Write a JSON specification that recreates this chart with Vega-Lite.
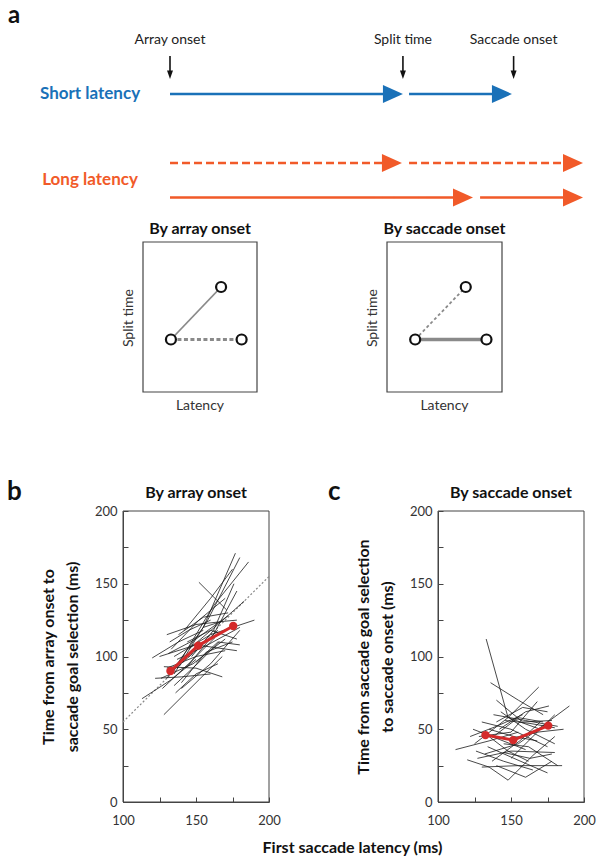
{
"$schema": "https://vega.github.io/schema/vega-lite/v6.json",
"width": 600, "height": 860,
"autosize": {"type": "none"},
"padding": 0,
"background": "white",
"config": {"view": {"stroke": null}, "font": "Lato", "axis": {"grid": false, "labelFont": "Lato", "titleFont": "Lato", "labelFlush": false}},
"datasets": {
"arrows": [
{"group":"short","style":"solid","lane":0,"t0":0,"t1":132,"tip":141},
{"group":"short","style":"solid","lane":0,"t0":144.7,"t1":198,"tip":207},
{"group":"long","style":"dashed","lane":2,"t0":0,"t1":131,"tip":140.4},
{"group":"long","style":"dashed","lane":2,"t0":144.7,"t1":241,"tip":250},
{"group":"long","style":"solid","lane":3,"t0":0,"t1":174,"tip":183.4},
{"group":"long","style":"solid","lane":3,"t0":187.7,"t1":241,"tip":250}
],
"events": [{"label":"Array onset","t":0},{"label":"Split time","t":141},{"label":"Saccade onset","t":208}],
"latlabels": [{"label":"Short latency","group":"short","t":-48.4,"lane":0},{"label":"Long latency","group":"long","t":-48.4,"lane":2.5}],
"pts": [{"p":"A","lx":2.45,"sy":3.5},{"p":"B","lx":6.85,"sy":7.0},{"p":"C","lx":8.65,"sy":3.5}],
"segs": [{"seg":"AB","x1":2.45,"y1":3.5,"x2":6.85,"y2":7.0},{"seg":"AC","x1":2.45,"y1":3.5,"x2":8.65,"y2":3.5}],
"diag": [{"lat":100,"t":55},{"lat":200,"t":155}],
"frame": [{"lat":100,"lat2":200,"t":0,"t2":200}],
"bMean": [{"lat":132.5,"t":90},{"lat":151.5,"t":107.5},{"lat":175.5,"t":121}],
"cMean": [{"lat":132.5,"t":46},{"lat":151.5,"t":42.5},{"lat":175.5,"t":52.5}],
"bLines": [
{"id":1,"lat":113,"t":71},{"id":1,"lat":133,"t":84},{"id":1,"lat":150,"t":98},
{"id":2,"lat":128,"t":60},{"id":2,"lat":150,"t":82},{"id":2,"lat":168,"t":100},
{"id":3,"lat":120,"t":99},{"id":3,"lat":138,"t":110},{"id":3,"lat":155,"t":118},
{"id":4,"lat":130,"t":85},{"id":4,"lat":155,"t":120},{"id":4,"lat":177,"t":171},
{"id":5,"lat":135,"t":88},{"id":5,"lat":158,"t":125},{"id":5,"lat":180,"t":168},
{"id":6,"lat":138,"t":95},{"id":6,"lat":162,"t":135},{"id":6,"lat":186,"t":165},
{"id":7,"lat":152,"t":151},{"id":7,"lat":162,"t":141},{"id":7,"lat":171,"t":132},
{"id":8,"lat":135,"t":100},{"id":8,"lat":160,"t":115},{"id":8,"lat":190,"t":125},
{"id":9,"lat":125,"t":100},{"id":9,"lat":150,"t":108},{"id":9,"lat":178,"t":104},
{"id":10,"lat":130,"t":92},{"id":10,"lat":150,"t":100},{"id":10,"lat":170,"t":104},
{"id":11,"lat":140,"t":78},{"id":11,"lat":160,"t":95},{"id":11,"lat":180,"t":118},
{"id":12,"lat":126,"t":85},{"id":12,"lat":148,"t":95},{"id":12,"lat":170,"t":112},
{"id":13,"lat":133,"t":105},{"id":13,"lat":152,"t":125},{"id":13,"lat":170,"t":140},
{"id":14,"lat":138,"t":115},{"id":14,"lat":155,"t":127},{"id":14,"lat":172,"t":130},
{"id":15,"lat":143,"t":92},{"id":15,"lat":162,"t":115},{"id":15,"lat":178,"t":145},
{"id":16,"lat":128,"t":93},{"id":16,"lat":150,"t":92},{"id":16,"lat":168,"t":86},
{"id":17,"lat":135,"t":80},{"id":17,"lat":152,"t":96},{"id":17,"lat":166,"t":110},
{"id":18,"lat":145,"t":105},{"id":18,"lat":165,"t":122},{"id":18,"lat":183,"t":138},
{"id":19,"lat":132,"t":110},{"id":19,"lat":145,"t":118},{"id":19,"lat":160,"t":125},
{"id":20,"lat":140,"t":82},{"id":20,"lat":157,"t":103},{"id":20,"lat":175,"t":110},
{"id":21,"lat":122,"t":85},{"id":21,"lat":140,"t":86},{"id":21,"lat":160,"t":88},
{"id":22,"lat":137,"t":98},{"id":22,"lat":158,"t":108},{"id":22,"lat":180,"t":120},
{"id":23,"lat":130,"t":115},{"id":23,"lat":150,"t":122},{"id":23,"lat":168,"t":124},
{"id":24,"lat":147,"t":100},{"id":24,"lat":162,"t":118},{"id":24,"lat":176,"t":150},
{"id":25,"lat":134,"t":90},{"id":25,"lat":150,"t":104},{"id":25,"lat":165,"t":118},
{"id":26,"lat":127,"t":78},{"id":26,"lat":146,"t":96},{"id":26,"lat":163,"t":113},
{"id":27,"lat":150,"t":96},{"id":27,"lat":165,"t":110},{"id":27,"lat":180,"t":108},
{"id":28,"lat":142,"t":118},{"id":28,"lat":160,"t":140},{"id":28,"lat":175,"t":160},
{"id":29,"lat":136,"t":75},{"id":29,"lat":150,"t":88},{"id":29,"lat":165,"t":95},
{"id":30,"lat":144,"t":110},{"id":30,"lat":160,"t":118},{"id":30,"lat":178,"t":112},
{"id":31,"lat":131,"t":102},{"id":31,"lat":150,"t":112},{"id":31,"lat":172,"t":128},
{"id":32,"lat":155,"t":120},{"id":32,"lat":167,"t":124},{"id":32,"lat":178,"t":125}
],
"cLines": [
{"id":1,"lat":133,"t":112},{"id":1,"lat":148,"t":58},{"id":1,"lat":170,"t":50},
{"id":2,"lat":112,"t":36},{"id":2,"lat":135,"t":42},{"id":2,"lat":155,"t":48},
{"id":3,"lat":120,"t":29},{"id":3,"lat":135,"t":24},{"id":3,"lat":148,"t":15},
{"id":4,"lat":148,"t":15},{"id":4,"lat":165,"t":32},{"id":4,"lat":180,"t":45},
{"id":5,"lat":136,"t":82},{"id":5,"lat":155,"t":70},{"id":5,"lat":172,"t":60},
{"id":6,"lat":130,"t":55},{"id":6,"lat":150,"t":50},{"id":6,"lat":175,"t":38},
{"id":7,"lat":140,"t":25},{"id":7,"lat":160,"t":17},{"id":7,"lat":178,"t":28},
{"id":8,"lat":125,"t":40},{"id":8,"lat":148,"t":58},{"id":8,"lat":169,"t":79},
{"id":9,"lat":132,"t":33},{"id":9,"lat":155,"t":40},{"id":9,"lat":190,"t":66},
{"id":10,"lat":138,"t":60},{"id":10,"lat":160,"t":56},{"id":10,"lat":182,"t":52},
{"id":11,"lat":128,"t":45},{"id":11,"lat":150,"t":48},{"id":11,"lat":168,"t":69},
{"id":12,"lat":142,"t":50},{"id":12,"lat":160,"t":62},{"id":12,"lat":176,"t":66},
{"id":13,"lat":127,"t":30},{"id":13,"lat":150,"t":35},{"id":13,"lat":180,"t":34},
{"id":14,"lat":135,"t":50},{"id":14,"lat":152,"t":45},{"id":14,"lat":168,"t":42},
{"id":15,"lat":145,"t":40},{"id":15,"lat":162,"t":38},{"id":15,"lat":182,"t":25},
{"id":16,"lat":122,"t":45},{"id":16,"lat":140,"t":52},{"id":16,"lat":158,"t":60},
{"id":17,"lat":140,"t":70},{"id":17,"lat":158,"t":55},{"id":17,"lat":178,"t":56},
{"id":18,"lat":130,"t":24},{"id":18,"lat":155,"t":25},{"id":18,"lat":185,"t":25},
{"id":19,"lat":150,"t":30},{"id":19,"lat":165,"t":45},{"id":19,"lat":180,"t":60},
{"id":20,"lat":134,"t":38},{"id":20,"lat":152,"t":30},{"id":20,"lat":175,"t":20},
{"id":21,"lat":143,"t":62},{"id":21,"lat":160,"t":50},{"id":21,"lat":180,"t":40},
{"id":22,"lat":126,"t":35},{"id":22,"lat":145,"t":28},{"id":22,"lat":165,"t":22},
{"id":23,"lat":138,"t":45},{"id":23,"lat":155,"t":58},{"id":23,"lat":172,"t":55},
{"id":24,"lat":146,"t":56},{"id":24,"lat":163,"t":54},{"id":24,"lat":180,"t":51},
{"id":25,"lat":131,"t":48},{"id":25,"lat":148,"t":35},{"id":25,"lat":162,"t":28},
{"id":26,"lat":152,"t":44},{"id":26,"lat":168,"t":48},{"id":26,"lat":186,"t":50},
{"id":27,"lat":124,"t":50},{"id":27,"lat":142,"t":43},{"id":27,"lat":160,"t":36},
{"id":28,"lat":140,"t":55},{"id":28,"lat":158,"t":65},{"id":28,"lat":175,"t":62},
{"id":29,"lat":137,"t":28},{"id":29,"lat":156,"t":42},{"id":29,"lat":170,"t":55},
{"id":30,"lat":145,"t":34},{"id":30,"lat":163,"t":30},{"id":30,"lat":178,"t":33}
]
},
"layer": [
{
"layer": [
{"data": {"name": "arrows"}, "mark": {"type": "rule", "strokeWidth": 2.6},
 "encoding": {
  "x": {"field": "t0", "type": "quantitative", "scale": {"domain": [0, 250], "range": [170, 583], "zero": false, "nice": false}, "axis": null},
  "x2": {"field": "t1"},
  "y": {"field": "lane", "type": "quantitative", "scale": {"domain": [0, 3], "range": [94, 197.5], "zero": false, "nice": false}, "axis": null},
  "color": {"field": "group", "type": "nominal", "scale": {"domain": ["short", "long"], "range": ["#1a71b8", "#f15a29"]}, "legend": null},
  "strokeDash": {"field": "style", "type": "nominal", "scale": {"domain": ["solid", "dashed"], "range": [[1, 0], [8, 4]]}, "legend": null}}},
{"data": {"name": "arrows"}, "mark": {"type": "point", "shape": "M-2,-0.9L0,0L-2,0.9Z", "filled": true, "size": 400, "opacity": 1, "strokeWidth": 0},
 "encoding": {
  "x": {"field": "tip", "type": "quantitative", "scale": {"domain": [0, 250], "range": [170, 583], "zero": false, "nice": false}, "axis": null},
  "y": {"field": "lane", "type": "quantitative", "scale": {"domain": [0, 3], "range": [94, 197.5], "zero": false, "nice": false}, "axis": null},
  "color": {"field": "group", "type": "nominal", "scale": {"domain": ["short", "long"], "range": ["#1a71b8", "#f15a29"]}, "legend": null}}},
{"data": {"name": "events"}, "mark": {"type": "rule", "color": "#111", "strokeWidth": 1.6},
 "encoding": {
  "x": {"field": "t", "type": "quantitative", "scale": {"domain": [0, 250], "range": [170, 583], "zero": false, "nice": false}, "axis": null},
  "y": {"datum": -1.1, "type": "quantitative", "scale": {"domain": [0, 3], "range": [94, 197.5], "zero": false, "nice": false}, "axis": null},
  "y2": {"datum": -0.55}}},
{"data": {"name": "events"}, "mark": {"type": "point", "shape": "M-0.7,-2L0,0L0.7,-2Z", "filled": true, "size": 72, "color": "#111", "opacity": 1, "strokeWidth": 0},
 "encoding": {
  "x": {"field": "t", "type": "quantitative", "scale": {"domain": [0, 250], "range": [170, 583], "zero": false, "nice": false}, "axis": null},
  "y": {"datum": -0.435, "type": "quantitative", "scale": {"domain": [0, 3], "range": [94, 197.5], "zero": false, "nice": false}, "axis": null}}},
{"data": {"name": "events"}, "mark": {"type": "text", "fontSize": 14, "color": "#222", "baseline": "middle", "align": "center"},
 "encoding": {
  "x": {"field": "t", "type": "quantitative", "scale": {"domain": [0, 250], "range": [170, 583], "zero": false, "nice": false}, "axis": null},
  "y": {"datum": -1.565, "type": "quantitative", "scale": {"domain": [0, 3], "range": [94, 197.5], "zero": false, "nice": false}, "axis": null},
  "text": {"field": "label"}}},
{"data": {"name": "latlabels"}, "mark": {"type": "text", "fontSize": 17, "fontWeight": "bold", "baseline": "middle", "align": "center"},
 "encoding": {
  "x": {"field": "t", "type": "quantitative", "scale": {"domain": [0, 250], "range": [170, 583], "zero": false, "nice": false}, "axis": null},
  "y": {"field": "lane", "type": "quantitative", "scale": {"domain": [0, 3], "range": [94, 197.5], "zero": false, "nice": false}, "axis": null},
  "text": {"field": "label"},
  "color": {"field": "group", "type": "nominal", "scale": {"domain": ["short", "long"], "range": ["#1a71b8", "#f15a29"]}, "legend": null}}},
{"data": {"values": [{"label": "a", "t": -98, "lane": -2.072}]}, "mark": {"type": "text", "fontSize": 24, "fontWeight": "bold", "align": "left", "baseline": "alphabetic", "color": "#111"},
 "encoding": {
  "x": {"field": "t", "type": "quantitative", "scale": {"domain": [0, 250], "range": [170, 583], "zero": false, "nice": false}, "axis": null},
  "y": {"field": "lane", "type": "quantitative", "scale": {"domain": [0, 3], "range": [94, 197.5], "zero": false, "nice": false}, "axis": null},
  "text": {"field": "label"}}}
]
},
{
"layer": [
{"data": {"values": [{}]}, "mark": {"type": "rect", "fill": "transparent", "stroke": "#444", "strokeWidth": 1.2},
 "encoding": {
  "x": {"datum": 0, "type": "quantitative", "scale": {"domain": [0, 10], "range": [143, 257], "zero": false, "nice": false}, "axis": null},
  "x2": {"datum": 10},
  "y": {"datum": 0, "type": "quantitative", "scale": {"domain": [0, 10], "range": [392, 242], "zero": false, "nice": false}, "axis": null},
  "y2": {"datum": 10}}},
{"data": {"name": "segs"}, "transform": [{"filter": "datum.seg === 'AB'"}], "mark": {"type": "rule", "color": "#8a8a8a", "strokeWidth": 1.8},
 "encoding": {
  "x": {"field": "x1", "type": "quantitative", "scale": {"domain": [0, 10], "range": [143, 257], "zero": false, "nice": false}, "axis": null},
  "x2": {"field": "x2"},
  "y": {"field": "y1", "type": "quantitative", "scale": {"domain": [0, 10], "range": [392, 242], "zero": false, "nice": false}, "axis": null},
  "y2": {"field": "y2"}}},
{"data": {"name": "segs"}, "transform": [{"filter": "datum.seg === 'AC'"}], "mark": {"type": "rule", "color": "#8a8a8a", "strokeWidth": 3.2, "strokeDash": [4, 2.5]},
 "encoding": {
  "x": {"field": "x1", "type": "quantitative", "scale": {"domain": [0, 10], "range": [143, 257], "zero": false, "nice": false}, "axis": null},
  "x2": {"field": "x2"},
  "y": {"field": "y1", "type": "quantitative", "scale": {"domain": [0, 10], "range": [392, 242], "zero": false, "nice": false}, "axis": null},
  "y2": {"field": "y2"}}},
{"data": {"name": "pts"}, "mark": {"type": "point", "shape": "circle", "fill": "white", "stroke": "#111", "strokeWidth": 2.2, "size": 100, "opacity": 1, "fillOpacity": 1},
 "encoding": {
  "x": {"field": "lx", "type": "quantitative", "scale": {"domain": [0, 10], "range": [143, 257], "zero": false, "nice": false}, "axis": null},
  "y": {"field": "sy", "type": "quantitative", "scale": {"domain": [0, 10], "range": [392, 242], "zero": false, "nice": false}, "axis": null}}},
{"data": {"values": [{"label": "By array onset", "lx": 5, "sy": 10.9}]}, "mark": {"type": "text", "fontSize": 16, "fontWeight": "bold", "align": "center", "baseline": "middle", "color": "#111"},
 "encoding": {
  "x": {"field": "lx", "type": "quantitative", "scale": {"domain": [0, 10], "range": [143, 257], "zero": false, "nice": false}, "axis": null},
  "y": {"field": "sy", "type": "quantitative", "scale": {"domain": [0, 10], "range": [392, 242], "zero": false, "nice": false}, "axis": null},
  "text": {"field": "label"}}},
{"data": {"values": [{"label": "Latency", "lx": 5, "sy": -0.93}]}, "mark": {"type": "text", "fontSize": 14, "align": "center", "baseline": "middle", "color": "#333"},
 "encoding": {
  "x": {"field": "lx", "type": "quantitative", "scale": {"domain": [0, 10], "range": [143, 257], "zero": false, "nice": false}, "axis": null},
  "y": {"field": "sy", "type": "quantitative", "scale": {"domain": [0, 10], "range": [392, 242], "zero": false, "nice": false}, "axis": null},
  "text": {"field": "label"}}},
{"data": {"values": [{"label": "Split time", "lx": -1.23, "sy": 4.93}]}, "mark": {"type": "text", "fontSize": 14, "align": "center", "baseline": "middle", "angle": 270, "color": "#333"},
 "encoding": {
  "x": {"field": "lx", "type": "quantitative", "scale": {"domain": [0, 10], "range": [143, 257], "zero": false, "nice": false}, "axis": null},
  "y": {"field": "sy", "type": "quantitative", "scale": {"domain": [0, 10], "range": [392, 242], "zero": false, "nice": false}, "axis": null},
  "text": {"field": "label"}}}
]
},
{
"layer": [
{"data": {"values": [{}]}, "mark": {"type": "rect", "fill": "transparent", "stroke": "#444", "strokeWidth": 1.2},
 "encoding": {
  "x": {"datum": 0, "type": "quantitative", "scale": {"domain": [0, 10], "range": [387, 502], "zero": false, "nice": false}, "axis": null},
  "x2": {"datum": 10},
  "y": {"datum": 0, "type": "quantitative", "scale": {"domain": [0, 10], "range": [392, 242], "zero": false, "nice": false}, "axis": null},
  "y2": {"datum": 10}}},
{"data": {"name": "segs"}, "transform": [{"filter": "datum.seg === 'AB'"}], "mark": {"type": "rule", "color": "#8a8a8a", "strokeWidth": 1.8, "strokeDash": [3, 2.5]},
 "encoding": {
  "x": {"field": "x1", "type": "quantitative", "scale": {"domain": [0, 10], "range": [387, 502], "zero": false, "nice": false}, "axis": null},
  "x2": {"field": "x2"},
  "y": {"field": "y1", "type": "quantitative", "scale": {"domain": [0, 10], "range": [392, 242], "zero": false, "nice": false}, "axis": null},
  "y2": {"field": "y2"}}},
{"data": {"name": "segs"}, "transform": [{"filter": "datum.seg === 'AC'"}], "mark": {"type": "rule", "color": "#8a8a8a", "strokeWidth": 3.5},
 "encoding": {
  "x": {"field": "x1", "type": "quantitative", "scale": {"domain": [0, 10], "range": [387, 502], "zero": false, "nice": false}, "axis": null},
  "x2": {"field": "x2"},
  "y": {"field": "y1", "type": "quantitative", "scale": {"domain": [0, 10], "range": [392, 242], "zero": false, "nice": false}, "axis": null},
  "y2": {"field": "y2"}}},
{"data": {"name": "pts"}, "mark": {"type": "point", "shape": "circle", "fill": "white", "stroke": "#111", "strokeWidth": 2.2, "size": 100, "opacity": 1, "fillOpacity": 1},
 "encoding": {
  "x": {"field": "lx", "type": "quantitative", "scale": {"domain": [0, 10], "range": [387, 502], "zero": false, "nice": false}, "axis": null},
  "y": {"field": "sy", "type": "quantitative", "scale": {"domain": [0, 10], "range": [392, 242], "zero": false, "nice": false}, "axis": null}}},
{"data": {"values": [{"label": "By saccade onset", "lx": 5, "sy": 10.9}]}, "mark": {"type": "text", "fontSize": 16, "fontWeight": "bold", "align": "center", "baseline": "middle", "color": "#111"},
 "encoding": {
  "x": {"field": "lx", "type": "quantitative", "scale": {"domain": [0, 10], "range": [387, 502], "zero": false, "nice": false}, "axis": null},
  "y": {"field": "sy", "type": "quantitative", "scale": {"domain": [0, 10], "range": [392, 242], "zero": false, "nice": false}, "axis": null},
  "text": {"field": "label"}}},
{"data": {"values": [{"label": "Latency", "lx": 5, "sy": -0.93}]}, "mark": {"type": "text", "fontSize": 14, "align": "center", "baseline": "middle", "color": "#333"},
 "encoding": {
  "x": {"field": "lx", "type": "quantitative", "scale": {"domain": [0, 10], "range": [387, 502], "zero": false, "nice": false}, "axis": null},
  "y": {"field": "sy", "type": "quantitative", "scale": {"domain": [0, 10], "range": [392, 242], "zero": false, "nice": false}, "axis": null},
  "text": {"field": "label"}}},
{"data": {"values": [{"label": "Split time", "lx": -1.23, "sy": 4.93}]}, "mark": {"type": "text", "fontSize": 14, "align": "center", "baseline": "middle", "angle": 270, "color": "#333"},
 "encoding": {
  "x": {"field": "lx", "type": "quantitative", "scale": {"domain": [0, 10], "range": [387, 502], "zero": false, "nice": false}, "axis": null},
  "y": {"field": "sy", "type": "quantitative", "scale": {"domain": [0, 10], "range": [392, 242], "zero": false, "nice": false}, "axis": null},
  "text": {"field": "label"}}}
]
},
{"data": {"name": "frame"}, "mark": {"type": "rect", "fill": "transparent", "stroke": "#444", "strokeWidth": 1},
 "encoding": {
  "x": {"field": "lat", "type": "quantitative", "scale": {"domain": [100, 200], "range": [123, 269], "zero": false, "nice": false},
   "axis": {"orient": "bottom", "offset": -58, "values": [125, 175], "tickSize": -5, "labels": false, "domain": false, "tickColor": "#444", "title": null}},
  "x2": {"field": "lat2"},
  "y": {"field": "t", "type": "quantitative", "scale": {"domain": [0, 200], "range": [802, 511], "zero": false, "nice": false},
   "axis": {"orient": "left", "offset": -123, "values": [25, 75, 125, 175], "tickSize": -5, "labels": false, "domain": false, "tickColor": "#444", "title": null}},
  "y2": {"field": "t2"}}},
{"data": {"name": "diag"}, "mark": {"type": "line", "color": "#888", "strokeWidth": 1.2, "strokeDash": [2, 2]},
 "encoding": {
  "x": {"field": "lat", "type": "quantitative", "scale": {"domain": [100, 200], "range": [123, 269], "zero": false, "nice": false},
   "axis": {"orient": "bottom", "offset": -58, "values": [100, 150, 200], "tickSize": -5, "labelPadding": 17, "labelFontSize": 13, "labelColor": "#333", "domainColor": "#444", "tickColor": "#444", "title": "First saccade latency (ms)", "titleFontSize": 16, "titleFontWeight": "bold", "titleColor": "#111", "titleX": 352, "titleY": 45, "titleBaseline": "middle", "titleAlign": "center"}},
  "y": {"field": "t", "type": "quantitative", "scale": {"domain": [0, 200], "range": [802, 511], "zero": false, "nice": false},
   "axis": {"orient": "left", "offset": -123, "values": [0, 50, 100, 150, 200], "tickSize": -5, "labelPadding": 11, "labelFontSize": 13, "labelColor": "#333", "domainColor": "#444", "tickColor": "#444", "title": ["Time from array onset to", "saccade goal selection (ms)"], "titleFontSize": 16, "titleFontWeight": "bold", "titleColor": "#111", "titlePadding": 14, "titleLineHeight": 24}}}},
{"data": {"name": "bLines"}, "mark": {"type": "line", "color": "#1a1a1a", "strokeWidth": 0.8},
 "encoding": {
  "x": {"field": "lat", "type": "quantitative", "scale": {"domain": [100, 200], "range": [123, 269], "zero": false, "nice": false}, "axis": null},
  "y": {"field": "t", "type": "quantitative", "scale": {"domain": [0, 200], "range": [802, 511], "zero": false, "nice": false}, "axis": null},
  "detail": {"field": "id", "type": "nominal"}}},
{"data": {"name": "bMean"}, "mark": {"type": "line", "color": "#d42a2a", "strokeWidth": 3},
 "encoding": {
  "x": {"field": "lat", "type": "quantitative", "scale": {"domain": [100, 200], "range": [123, 269], "zero": false, "nice": false}, "axis": null},
  "y": {"field": "t", "type": "quantitative", "scale": {"domain": [0, 200], "range": [802, 511], "zero": false, "nice": false}, "axis": null}}},
{"data": {"name": "bMean"}, "mark": {"type": "circle", "color": "#d42a2a", "size": 70, "opacity": 1},
 "encoding": {
  "x": {"field": "lat", "type": "quantitative", "scale": {"domain": [100, 200], "range": [123, 269], "zero": false, "nice": false}, "axis": null},
  "y": {"field": "t", "type": "quantitative", "scale": {"domain": [0, 200], "range": [802, 511], "zero": false, "nice": false}, "axis": null}}},
{"data": {"values": [{"label": "By array onset", "lat": 150, "t": 212.4}]}, "mark": {"type": "text", "fontSize": 16, "fontWeight": "bold", "align": "center", "baseline": "middle", "color": "#111"},
 "encoding": {
  "x": {"field": "lat", "type": "quantitative", "scale": {"domain": [100, 200], "range": [123, 269], "zero": false, "nice": false}, "axis": null},
  "y": {"field": "t", "type": "quantitative", "scale": {"domain": [0, 200], "range": [802, 511], "zero": false, "nice": false}, "axis": null},
  "text": {"field": "label"}}},
{"data": {"values": [{"label": "b", "lat": 20.5, "t": 207.6}]}, "mark": {"type": "text", "fontSize": 26, "fontWeight": "bold", "align": "left", "baseline": "alphabetic", "color": "#111"},
 "encoding": {
  "x": {"field": "lat", "type": "quantitative", "scale": {"domain": [100, 200], "range": [123, 269], "zero": false, "nice": false}, "axis": null},
  "y": {"field": "t", "type": "quantitative", "scale": {"domain": [0, 200], "range": [802, 511], "zero": false, "nice": false}, "axis": null},
  "text": {"field": "label"}}},
{"data": {"name": "frame"}, "mark": {"type": "rect", "fill": "transparent", "stroke": "#444", "strokeWidth": 1},
 "encoding": {
  "x": {"field": "lat", "type": "quantitative", "scale": {"domain": [100, 200], "range": [438, 584], "zero": false, "nice": false},
   "axis": {"orient": "bottom", "offset": -58, "values": [125, 175], "tickSize": -5, "labels": false, "domain": false, "tickColor": "#444", "title": null}},
  "x2": {"field": "lat2"},
  "y": {"field": "t", "type": "quantitative", "scale": {"domain": [0, 200], "range": [802, 511], "zero": false, "nice": false},
   "axis": {"orient": "left", "offset": -438, "values": [25, 75, 125, 175], "tickSize": -5, "labels": false, "domain": false, "tickColor": "#444", "title": null}},
  "y2": {"field": "t2"}}},
{"data": {"name": "cLines"}, "mark": {"type": "line", "color": "#1a1a1a", "strokeWidth": 0.8},
 "encoding": {
  "x": {"field": "lat", "type": "quantitative", "scale": {"domain": [100, 200], "range": [438, 584], "zero": false, "nice": false},
   "axis": {"orient": "bottom", "offset": -58, "values": [100, 150, 200], "tickSize": -5, "labelPadding": 17, "labelFontSize": 13, "labelColor": "#333", "domainColor": "#444", "tickColor": "#444", "title": null}},
  "y": {"field": "t", "type": "quantitative", "scale": {"domain": [0, 200], "range": [802, 511], "zero": false, "nice": false},
   "axis": {"orient": "left", "offset": -438, "values": [0, 50, 100, 150, 200], "tickSize": -5, "labelPadding": 11, "labelFontSize": 13, "labelColor": "#333", "domainColor": "#444", "tickColor": "#444", "title": ["Time from saccade goal selection", "to saccade onset (ms)"], "titleFontSize": 16, "titleFontWeight": "bold", "titleColor": "#111", "titlePadding": 14, "titleLineHeight": 24}},
  "detail": {"field": "id", "type": "nominal"}}},
{"data": {"name": "cMean"}, "mark": {"type": "line", "color": "#d42a2a", "strokeWidth": 3},
 "encoding": {
  "x": {"field": "lat", "type": "quantitative", "scale": {"domain": [100, 200], "range": [438, 584], "zero": false, "nice": false}, "axis": null},
  "y": {"field": "t", "type": "quantitative", "scale": {"domain": [0, 200], "range": [802, 511], "zero": false, "nice": false}, "axis": null}}},
{"data": {"name": "cMean"}, "mark": {"type": "circle", "color": "#d42a2a", "size": 70, "opacity": 1},
 "encoding": {
  "x": {"field": "lat", "type": "quantitative", "scale": {"domain": [100, 200], "range": [438, 584], "zero": false, "nice": false}, "axis": null},
  "y": {"field": "t", "type": "quantitative", "scale": {"domain": [0, 200], "range": [802, 511], "zero": false, "nice": false}, "axis": null}}},
{"data": {"values": [{"label": "By saccade onset", "lat": 150, "t": 212.4}]}, "mark": {"type": "text", "fontSize": 16, "fontWeight": "bold", "align": "center", "baseline": "middle", "color": "#111"},
 "encoding": {
  "x": {"field": "lat", "type": "quantitative", "scale": {"domain": [100, 200], "range": [438, 584], "zero": false, "nice": false}, "axis": null},
  "y": {"field": "t", "type": "quantitative", "scale": {"domain": [0, 200], "range": [802, 511], "zero": false, "nice": false}, "axis": null},
  "text": {"field": "label"}}},
{"data": {"values": [{"label": "c", "lat": 24.7, "t": 207.6}]}, "mark": {"type": "text", "fontSize": 26, "fontWeight": "bold", "align": "left", "baseline": "alphabetic", "color": "#111"},
 "encoding": {
  "x": {"field": "lat", "type": "quantitative", "scale": {"domain": [100, 200], "range": [438, 584], "zero": false, "nice": false}, "axis": null},
  "y": {"field": "t", "type": "quantitative", "scale": {"domain": [0, 200], "range": [802, 511], "zero": false, "nice": false}, "axis": null},
  "text": {"field": "label"}}}
],
"resolve": {"scale": {"x": "independent", "y": "independent"}, "axis": {"x": "independent", "y": "independent"}}
}
